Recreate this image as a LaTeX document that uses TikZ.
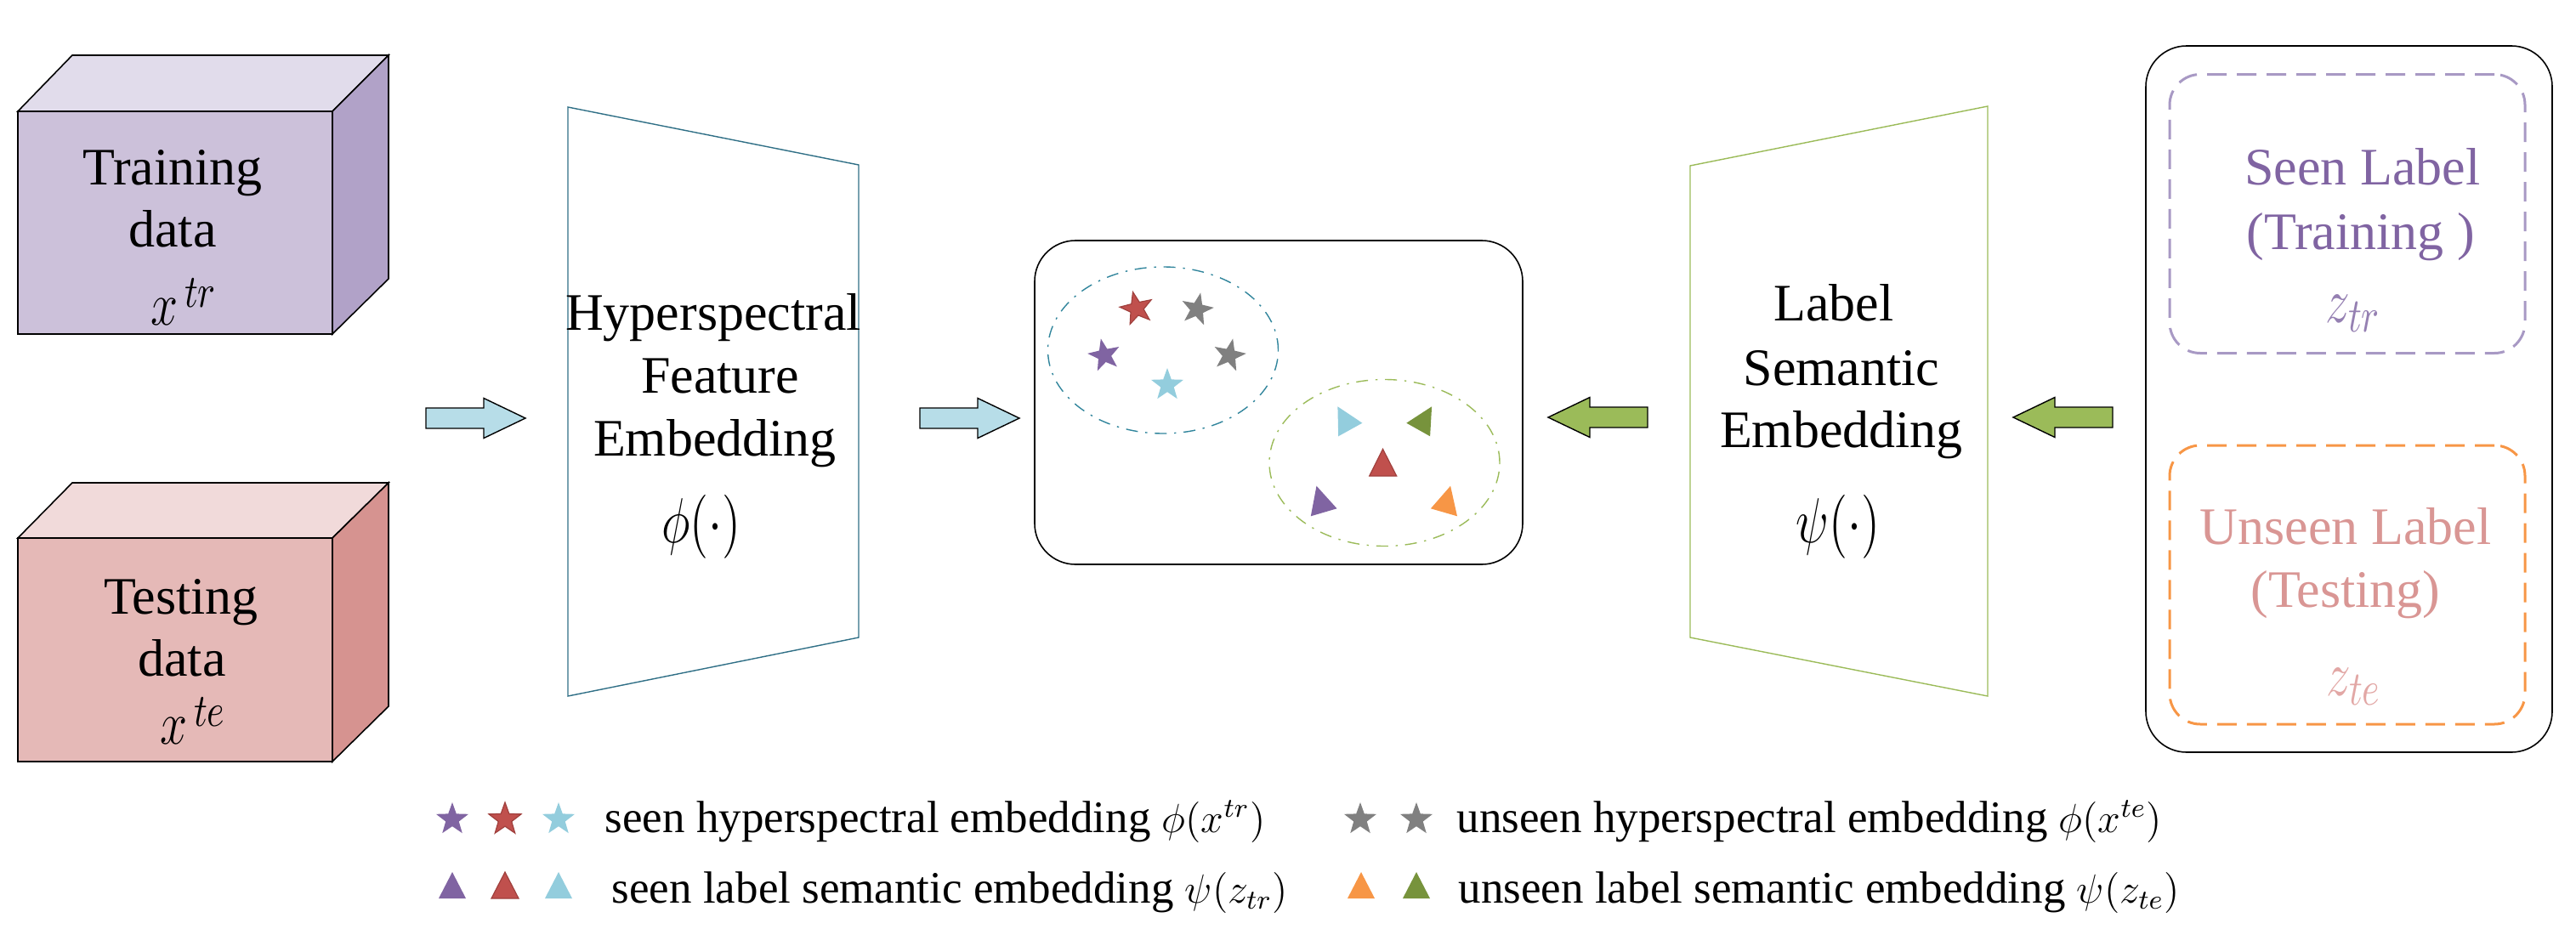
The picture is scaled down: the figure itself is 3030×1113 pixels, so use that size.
\documentclass[tikz,border=0pt]{standalone}
\usepackage[no-math]{fontspec}
\setmainfont{Liberation Serif}
\usepackage{graphicx}
\usetikzlibrary{shapes.geometric}
\definecolor{cPurple}{HTML}{8064A2}
\definecolor{cPurpleL}{HTML}{9580B2}
\definecolor{cRed}{HTML}{C0504D}
\definecolor{cRedD}{HTML}{A0403D}
\definecolor{cAqua}{HTML}{93CDDD}
\definecolor{cGray}{HTML}{808080}
\definecolor{cOrange}{HTML}{F79646}
\definecolor{cOlive}{HTML}{77933C}
\definecolor{cGreen}{HTML}{9BBB59}
\definecolor{cArrowBlue}{HTML}{B7DDE8}
\definecolor{cEllBlue}{HTML}{31859C}
\definecolor{cTrap}{HTML}{2F6F86}
\definecolor{trFront}{HTML}{CCC1DA}
\definecolor{trTop}{HTML}{E1DCEB}
\definecolor{trSide}{HTML}{B1A2C8}
\definecolor{teFront}{HTML}{E5B9B7}
\definecolor{teTop}{HTML}{F1DADA}
\definecolor{teSide}{HTML}{D69390}
\definecolor{cSeenDash}{HTML}{A899C4}
\definecolor{cUnseenTxt}{HTML}{D99694}
\definecolor{cUnseenZ}{HTML}{E2A7A5}
\newcommand{\tallm}[1]{\scalebox{1}[1.3]{$#1$}}
\newcommand{\datavar}[1]{\scalebox{1}[1.25]{$x$\raisebox{4.2pt}{$\scriptstyle\,#1$}}}
\begin{document}
\begin{tikzpicture}[x=0.25pt,y=-0.25pt,
  face/.style={draw=black, line width=0.4pt, line join=miter},
  frontface/.style={face, minimum width=92.5pt, inner sep=0},
  big/.style={font=\fontsize{15.5}{18.5}\selectfont, inner sep=0},
  leg/.style={font=\fontsize{13.25}{15}\selectfont, inner sep=0, anchor=base west},
  starnode/.style={star, star points=5, star point ratio=2.45, minimum size=10pt, inner sep=0},
  dashbox/.style={draw, rounded corners=9pt, line width=0.75pt, dash pattern=on 5.75pt off 3pt,
    minimum width=104.5pt, minimum height=82pt, inner sep=0},
  ell/.style={draw, ellipse, line width=0.35pt, dash pattern=on 3.5pt off 2.2pt on 0.6pt off 2.2pt,
    minimum width=67.75pt, minimum height=49pt, inner sep=0},
  panel/.style={draw=black, line width=0.4pt, rounded corners=12pt, inner sep=0},
  blockarrow/.style={draw=black, line width=0.35pt, line join=miter},
  pics/barrow/.style={code={
    \path[pic actions] (0,0) -- (-49,-23.5) -- (-49,-12) -- (-117,-12) -- (-117,12)
      -- (-49,12) -- (-49,23.5) -- cycle;}}
]
\useasboundingbox (0,0) rectangle (3030,1113);

% ---------- Training data cube ----------
\path[face, fill=trTop] (21,131) -- (85,65) -- (457,65) -- (391,131) -- cycle;
\path[face, fill=trSide] (391,131) -- (457,65) -- (457,328) -- (391,393) -- cycle;
\node[frontface, fill=trFront, minimum height=65.5pt] (train) at (206,262) {};
\node[big, anchor=base] (trainT) at (203,217) {Training};
\node[big, anchor=base] (trainD) at (203,290) {data};
\node[big, anchor=base west] (trainX) at (177,382) {\datavar{tr}};

% ---------- Testing data cube ----------
\path[face, fill=teTop] (21,633) -- (85,568) -- (457,568) -- (391,633) -- cycle;
\path[face, fill=teSide] (391,633) -- (457,568) -- (457,831) -- (391,896) -- cycle;
\node[frontface, fill=teFront, minimum height=65.75pt] (test) at (206,764.5) {};
\node[big, anchor=base] (testT) at (213,722) {Testing};
\node[big, anchor=base] (testD) at (214,795) {data};
\node[big, anchor=base west] (testX) at (188,875) {\datavar{te}};

% ---------- arrows ----------
\pic[blockarrow, fill=cArrowBlue] (arA) at (618,492) {barrow};
\pic[blockarrow, fill=cArrowBlue] (arB) at (1199,492) {barrow};
\pic[blockarrow, fill=cGreen, xscale=-1] (arC) at (1821,491) {barrow};
\pic[blockarrow, fill=cGreen, xscale=-1] (arD) at (2368,491) {barrow};

% ---------- Hyperspectral feature embedding ----------
\path[draw=cTrap, line width=0.35pt] (668,126) -- (1010,194) -- (1010,750) -- (668,819) -- cycle;
\node[big, anchor=base] (hfe1) at (839,388) {Hyperspectral};
\node[big, anchor=base] (hfe2) at (847,462) {Feature};
\node[big, anchor=base] (hfe3) at (841,536) {Embedding};
\node[big, anchor=base] (hfe4) at (825,638) {\tallm{\phi(\cdot)}};

% ---------- Label semantic embedding ----------
\path[draw=cGreen, line width=0.35pt] (1988,195) -- (2338,125) -- (2338,819) -- (1988,750) -- cycle;
\node[big, anchor=base] (lse1) at (2157,377) {Label};
\node[big, anchor=base] (lse2) at (2166,453) {Semantic};
\node[big, anchor=base] (lse3) at (2166,526) {Embedding};
\node[big, anchor=base] (lse4) at (2162,638) {\tallm{\psi(\cdot)}};

% ---------- embedding space ----------
\node[panel, minimum width=143.5pt, minimum height=95.25pt] (space) at (1504,473.5) {};
\node[ell, draw=cEllBlue] (seenEll) at (1368,412) {};
\node[ell, draw=cGreen] (unseenEll) at (1628.5,544.5) {};
\node[starnode, fill=cRed, draw=cRedD, line width=0.3pt, rotate=13] (sR) at (1337,363) {};
\node[starnode, fill=cGray, rotate=-12] (sG1) at (1408,364) {};
\node[starnode, fill=cPurple, rotate=12] (sP) at (1299,418) {};
\node[starnode, fill=cGray, rotate=-12] (sG2) at (1446,418) {};
\node[starnode, fill=cAqua] (sA) at (1373,453) {};
\fill[cAqua] (1573.4,478.3) -- (1602.4,497.7) -- (1574.2,513.3) -- cycle;
\fill[cOlive] (1684.1,478.3) -- (1654.3,497.7) -- (1682.1,513.3) -- cycle;
\path[fill=cRed, draw=cRedD, line width=0.3pt] (1626.5,528.3) -- (1642.7,560) -- (1610.7,560) -- cycle;
\fill[cPurple] (1548.5,571.7) -- (1572.5,598.3) -- (1541.8,607.3) -- cycle;
\fill[cOrange] (1706.1,571.7) -- (1714,607.3) -- (1682.9,598.3) -- cycle;

% ---------- label panel ----------
\node[panel, minimum width=119.5pt, minimum height=207.75pt] (labels) at (2763,469.5) {};
\node[dashbox, draw=cSeenDash] (seenBox) at (2761,251.5) {};
\node[dashbox, draw=cOrange] (unseenBox) at (2761,688) {};
\node[big, anchor=base, text=cPurple] (seen1) at (2779,217) {Seen Label};
\node[big, anchor=base, text=cPurple] (seen2) at (2777,293) {(Training )};
\node[big, anchor=base west, text=cPurpleL] (seen3) at (2735,379) {\tallm{z_{tr}}};
\node[big, anchor=base, text=cUnseenTxt] (unseen1) at (2759,640) {Unseen Label};
\node[big, anchor=base, text=cUnseenTxt] (unseen2) at (2759,714) {(Testing)};
\node[big, anchor=base west, text=cUnseenZ] (unseen3) at (2736,818) {\tallm{z_{te}}};

% ---------- legend ----------
\node[starnode, fill=cPurple] (lgs1) at (532,964) {};
\node[starnode, fill=cRed, draw=cRedD, line width=0.3pt] (lgs2) at (594,964) {};
\node[starnode, fill=cAqua] (lgs3) at (657,964) {};
\node[starnode, fill=cGray] (lgs4) at (1600,964) {};
\node[starnode, fill=cGray] (lgs5) at (1666,964) {};
\fill[cPurple] (532,1026) -- (548,1057) -- (516,1057) -- cycle;
\path[fill=cRed, draw=cRedD, line width=0.3pt] (594,1026) -- (610,1057) -- (578,1057) -- cycle;
\fill[cAqua] (657,1026) -- (673,1057) -- (641,1057) -- cycle;
\fill[cOrange] (1601,1026) -- (1617,1057) -- (1585,1057) -- cycle;
\fill[cOlive] (1666,1026) -- (1682,1057) -- (1650,1057) -- cycle;
\node[leg] (leg1) at (711,979) {seen hyperspectral embedding {\fontsize{11.5}{13}\selectfont$\phi(x^{tr})$}};
\node[leg] (leg2) at (719,1062) {seen label semantic embedding {\fontsize{11.5}{13}\selectfont$\psi(z_{tr})$}};
\node[leg] (leg3) at (1713,979) {unseen hyperspectral embedding {\fontsize{11.5}{13}\selectfont$\phi(x^{te})$}};
\node[leg] (leg4) at (1715,1062) {unseen label semantic embedding {\fontsize{11.5}{13}\selectfont$\psi(z_{te})$}};
\end{tikzpicture}
\end{document}
